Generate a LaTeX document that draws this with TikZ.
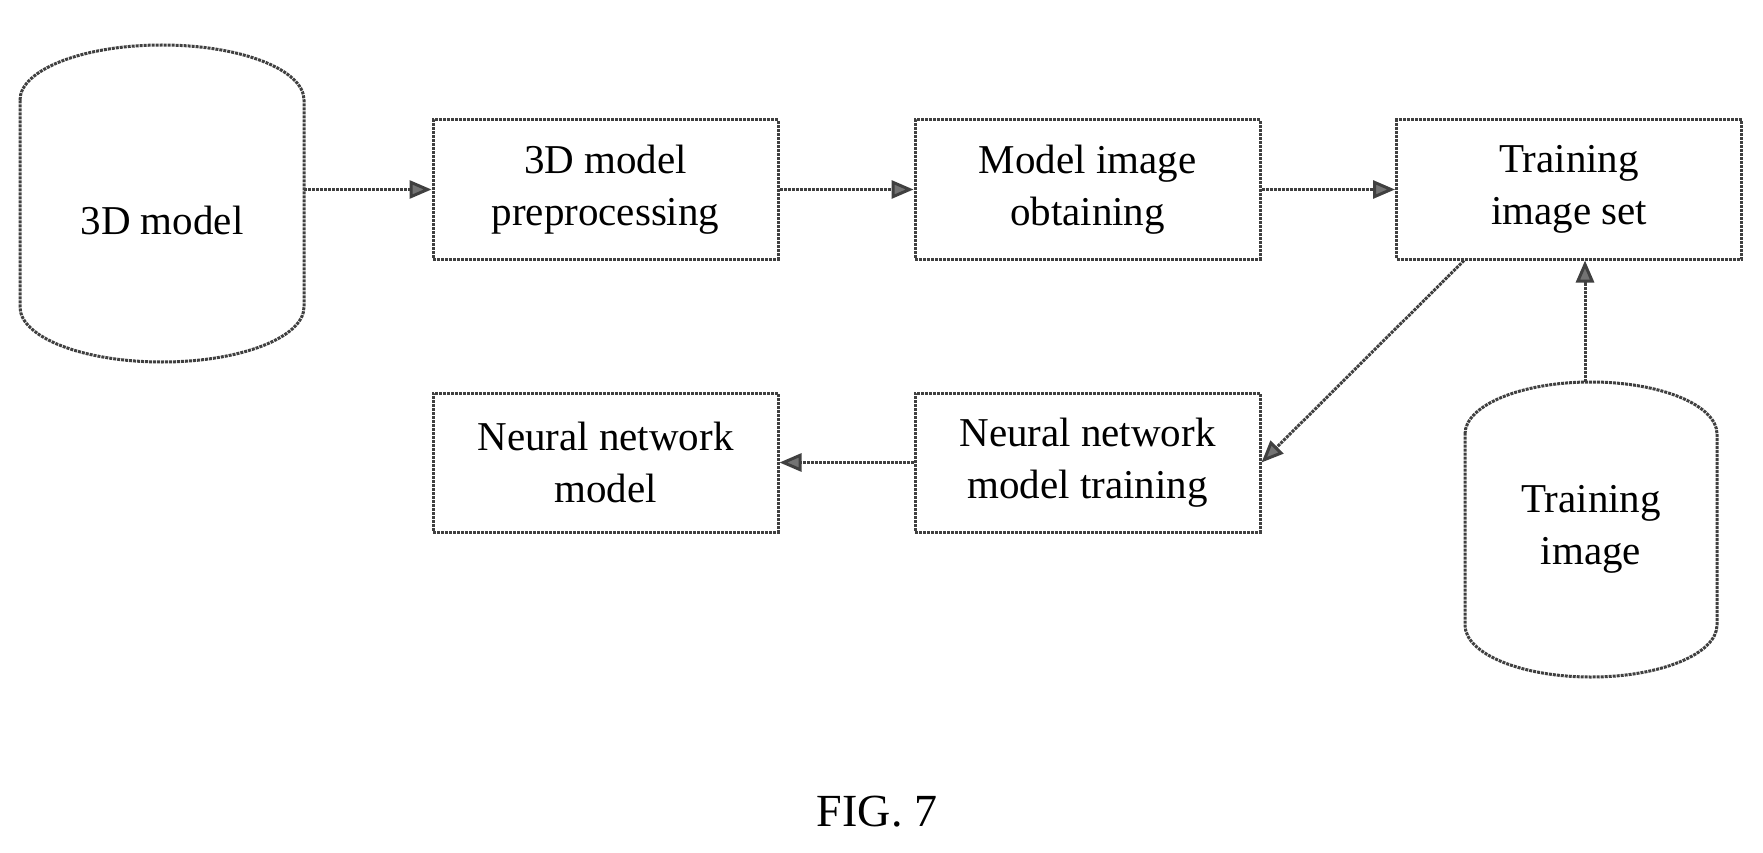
\documentclass[tikz,border=0pt]{standalone}
\usepackage{fontspec}
\setmainfont{Liberation Serif}
\usetikzlibrary{arrows.meta}
\begin{document}
\begin{tikzpicture}[x=1pt,y=-1pt,
  ln/.style={draw=black!75,line width=3pt,densely dotted},
  box/.style={ln,rectangle,minimum width=345pt,minimum height=139pt,align=center,inner sep=0pt,font=\fontsize{41}{52}\selectfont},
  arr/.style={draw=black!75,line width=3pt,densely dotted,-{Triangle[length=22pt,width=18pt,fill=black!55]}}]
\useasboundingbox (0,0) rectangle (1763,853);
\node[box] (a) at (605.5,189.5) {3D model\\preprocessing};
\node[box] (b) at (1087.5,189.5) {Model image\\obtaining};
\node[box] (c) at (1569,189.5) {Training\\image set};
\node[box] (d) at (605.5,462.5) {Neural network\\model};
\node[box] (e) at (1087.5,462.5) {Neural network\\model training};
\node[minimum width=284pt,minimum height=317pt,inner sep=0pt,font=\fontsize{41}{52}\selectfont] (c1) at (162,220) {3D model};
\node[minimum width=252pt,minimum height=295pt,inner sep=0pt,align=center,font=\fontsize{41}{52}\selectfont] (c2) at (1591,529.5) {Training\\image};
% cylinder outlines
\draw[ln] (20,100) arc[start angle=180,end angle=0,x radius=142,y radius=-55]
  -- (304,307) arc[start angle=0,end angle=-180,x radius=142,y radius=-55] -- cycle;
\draw[ln] (1465,434) arc[start angle=180,end angle=0,x radius=126,y radius=-52]
  -- (1717,625) arc[start angle=0,end angle=-180,x radius=126,y radius=-52] -- cycle;
\draw[arr] (304,189.5) -- (a.west);
\draw[arr] (a) -- (b);
\draw[arr] (b) -- (c);
\draw[arr] ([xshift=-105]c.south) -- (e.east);
\draw[arr] (1585,382) -- (1585,0|-c.south);
\draw[arr] (e) -- (d);
\node[font=\fontsize{46}{50}\selectfont] (fig) at (877,812) {FIG. 7};
\end{tikzpicture}
\end{document}
